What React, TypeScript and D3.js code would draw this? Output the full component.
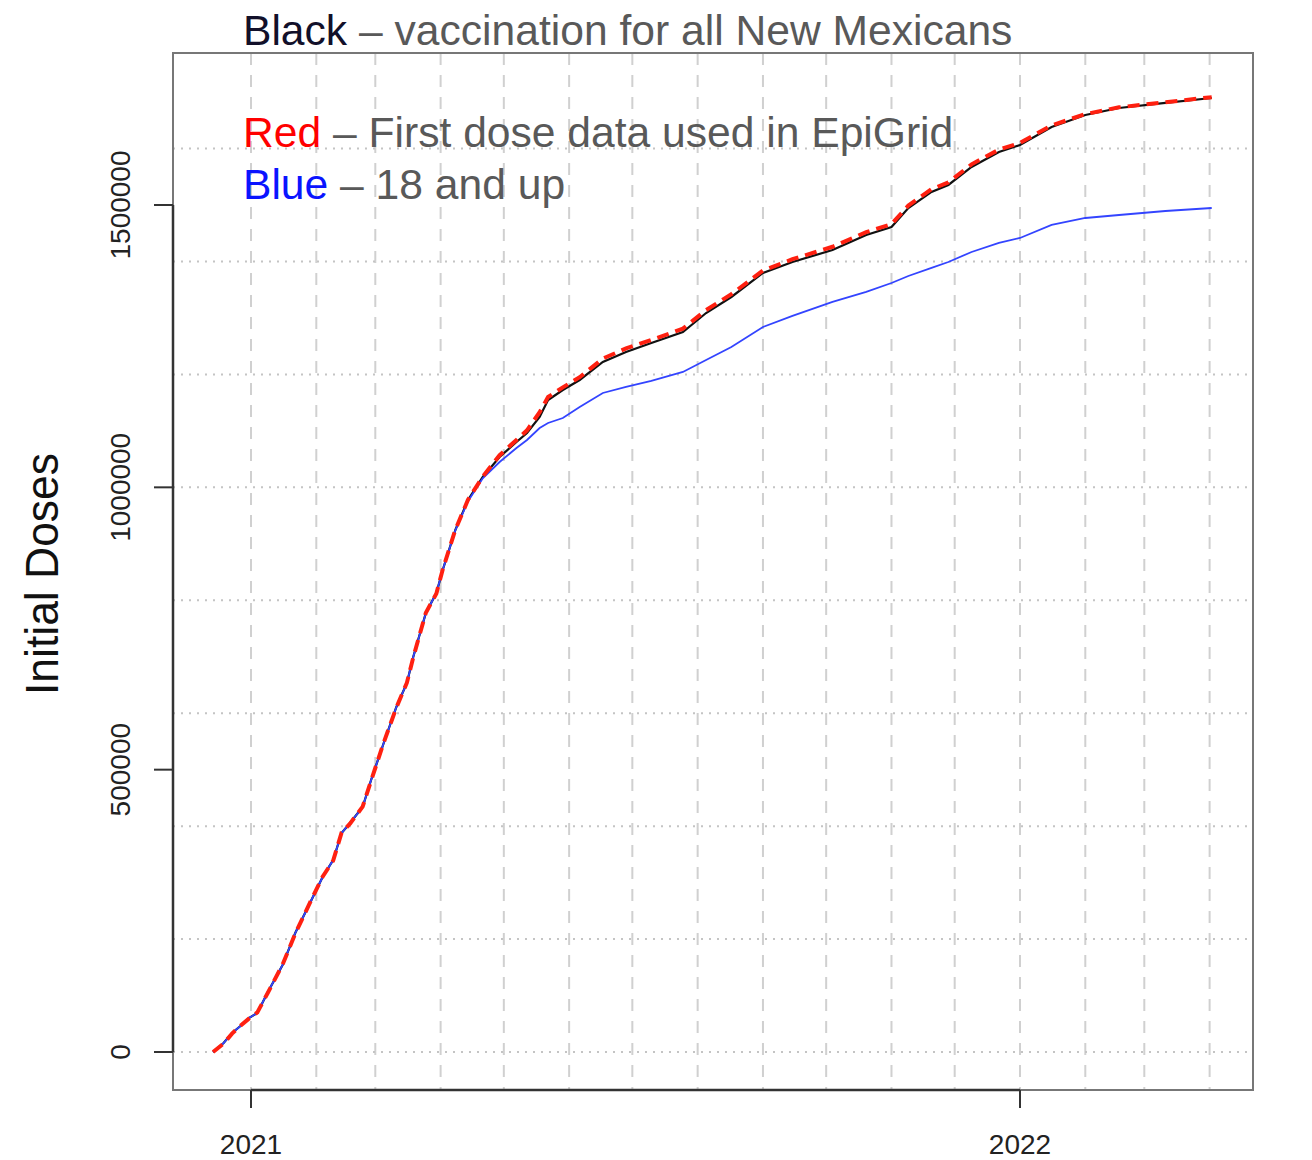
import React from "react";
import * as d3 from "d3";

// Report dates for the cumulative first-dose series
const dates = [
  "2020-12-14", "2020-12-19", "2020-12-23", "2020-12-27", "2020-12-31",
  "2021-01-04", "2021-01-09", "2021-01-16", "2021-01-22", "2021-01-29",
  "2021-02-04", "2021-02-09", "2021-02-13", "2021-02-17", "2021-02-23",
  "2021-02-27", "2021-03-05", "2021-03-11", "2021-03-16", "2021-03-19",
  "2021-03-25", "2021-03-30", "2021-04-02", "2021-04-08", "2021-04-14",
  "2021-04-21", "2021-04-29", "2021-05-07", "2021-05-12", "2021-05-18",
  "2021-05-22", "2021-05-29", "2021-06-06", "2021-06-17", "2021-06-28",
  "2021-07-10", "2021-07-25", "2021-08-05", "2021-08-17", "2021-09-01",
  "2021-09-15", "2021-10-04", "2021-10-20", "2021-11-01", "2021-11-09",
  "2021-11-20", "2021-11-28", "2021-12-09", "2021-12-22", "2022-01-01",
  "2022-01-16", "2022-02-01", "2022-02-17", "2022-03-11", "2022-04-02",
];

// All New Mexicans (black)
const allResidents = [
  0, 15900, 33600, 46000, 60200,
  69100, 106300, 154100, 210700, 263900,
  309900, 340000, 387800, 405600, 433900,
  481700, 547200, 611000, 653500, 699500,
  777500, 812900, 853600, 924500, 977600,
  1018300, 1053700, 1080300, 1096200, 1124600,
  1154700, 1172400, 1190100, 1222000, 1239700,
  1255600, 1275100, 1308700, 1337100, 1379600,
  1399100, 1420300, 1446900, 1461100, 1494700,
  1523100, 1535500, 1567300, 1593900, 1606300,
  1638200, 1659400, 1671800, 1680700, 1689500,
];

// First dose data used in EpiGrid (red, dashed)
const epiGridFirstDose = [
  0, 15000, 32500, 46500, 59000,
  70000, 105000, 155000, 209500, 264500,
  310500, 339000, 388500, 404500, 434500,
  480500, 548000, 610000, 654000, 698500,
  778000, 812000, 854500, 925000, 978000,
  1019000, 1057000, 1084000, 1101000, 1133000,
  1160000, 1177000, 1195000, 1228000, 1246000,
  1261000, 1281000, 1314000, 1342000, 1384000,
  1404000, 1426000, 1452000, 1466000, 1499000,
  1528000, 1540000, 1572000, 1598000, 1610000,
  1641000, 1661000, 1673000, 1682000, 1691000,
];

// 18 and up (blue)
const adults18Plus = [
  0, 15900, 33600, 46000, 60200,
  69100, 106300, 154100, 210700, 263900,
  309900, 340000, 387800, 405600, 433900,
  481700, 547200, 611000, 653500, 699500,
  777500, 812900, 853600, 924000, 975500,
  1016000, 1044900, 1069700, 1083900, 1105100,
  1113900, 1122800, 1142300, 1167100, 1177700,
  1188400, 1204300, 1225500, 1248600, 1284000,
  1303500, 1328300, 1346000, 1361900, 1374300,
  1388500, 1399100, 1416800, 1432800, 1441600,
  1464700, 1477000, 1482300, 1489400, 1494700,
];

const yTicks = [0, 500000, 1000000, 1500000];
const yGrid = [0, 200000, 400000, 600000, 800000, 1000000, 1200000, 1400000, 1600000];
const xTickLabels = ["2021", "2022"];

const W = 1312;
const H = 1160;
const box = { left: 173, right: 1253, top: 53, bottom: 1090 };
const FONT = "'Liberation Sans', Arial, Helvetica, sans-serif";

export default function App() {
  const parse = d3.timeParse("%Y-%m-%d");
  const t = dates.map((s) => parse(s) as Date);

  const x = d3
    .scaleTime()
    .domain([parse("2021-01-01") as Date, parse("2022-01-01") as Date])
    .range([251, 1020]);
  const y = d3.scaleLinear().domain([0, 1500000]).range([1052, 205]);

  const monthGrid = d3.timeMonth.range(
    parse("2021-01-01") as Date,
    parse("2022-04-02") as Date
  );
  const yearTicks = xTickLabels.map((s) => parse(`${s}-01-01`) as Date);

  const mk = (vals: number[]) =>
    d3
      .line<number>()
      .x((_, i) => x(t[i]))
      .y((v) => y(v))(vals) as string;

  return (
    <svg
      width={W}
      height={H}
      style={{ position: "absolute", left: 0, top: 0, background: "#fff" }}
      fontFamily={FONT}
    >
      <rect x={0} y={0} width={W} height={H} fill="#fff" />

      {/* grid */}
      {monthGrid.map((d, i) => (
        <line
          key={`vg${i}`}
          x1={x(d)}
          x2={x(d)}
          y1={box.top}
          y2={box.bottom}
          stroke="#d0d0d0"
          strokeWidth={2}
          strokeDasharray="12 10"
        />
      ))}
      {yGrid.map((v, i) => (
        <line
          key={`hg${i}`}
          x1={box.left}
          x2={box.right}
          y1={y(v)}
          y2={y(v)}
          stroke="#c4c4c4"
          strokeWidth={2}
          strokeDasharray="2 6"
        />
      ))}

      {/* series */}
      <path d={mk(allResidents)} fill="none" stroke="#111" strokeWidth={2.2} />
      <path d={mk(adults18Plus)} fill="none" stroke="#3344ff" strokeWidth={1.8} />
      <path
        d={mk(epiGridFirstDose)}
        fill="none"
        stroke="#ff2010"
        strokeWidth={4}
        strokeDasharray="12 7"
      />

      {/* box */}
      <rect
        x={box.left}
        y={box.top}
        width={box.right - box.left}
        height={box.bottom - box.top}
        fill="none"
        stroke="#777"
        strokeWidth={2}
      />

      {/* axes */}
      <line x1={box.left} x2={box.left} y1={y(0)} y2={y(1500000)} stroke="#333" strokeWidth={2.5} />
      <line x1={x(yearTicks[0])} x2={x(yearTicks[1])} y1={box.bottom} y2={box.bottom} stroke="#333" strokeWidth={2.5} />
      {yTicks.map((v) => (
        <g key={`yt${v}`}>
          <line x1={154} x2={box.left} y1={y(v)} y2={y(v)} stroke="#333" strokeWidth={2} />
          <text
            transform={`translate(130,${y(v)}) rotate(-90)`}
            textAnchor="middle"
            fontSize={28}
            fill="#222"
          >
            {v}
          </text>
        </g>
      ))}
      {yearTicks.map((d, i) => (
        <g key={`xt${i}`}>
          <line x1={x(d)} x2={x(d)} y1={box.bottom} y2={1108} stroke="#333" strokeWidth={2} />
          <text x={x(d)} y={1154} textAnchor="middle" fontSize={28} fill="#222">
            {xTickLabels[i]}
          </text>
        </g>
      ))}

      <text
        transform={`translate(58,574) rotate(-90)`}
        textAnchor="middle"
        fontSize={47}
        textLength={242}
        lengthAdjust="spacingAndGlyphs"
        fill="#111"
      >
        Initial Doses
      </text>

      {/* legend */}
      <text x={243} y={45} fontSize={42.6} fill="#595959">
        <tspan fill="#12102a">Black</tspan> – vaccination for all New Mexicans
      </text>
      <text x={243} y={147} fontSize={42.6} fill="#595959">
        <tspan fill="#ff0000">Red</tspan> – First dose data used in EpiGrid
      </text>
      <text x={243} y={199} fontSize={42.6} fill="#595959">
        <tspan fill="#0a14ff">Blue</tspan> – 18 and up
      </text>
    </svg>
  );
}
